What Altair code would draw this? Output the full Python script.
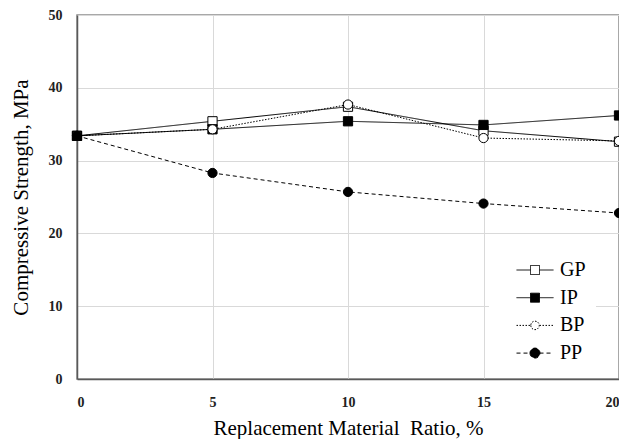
import altair as alt
import pandas as pd

ratios = [0, 5, 10, 15, 20]
series_names = ["GP", "IP", "BP", "PP"]
gp = [33.4, 35.4, 37.4, 34.1, 32.6]
ip = [33.4, 34.3, 35.4, 34.9, 36.2]
bp = [33.4, 34.3, 37.7, 33.1, 32.7]
pp = [33.4, 28.3, 25.7, 24.1, 22.8]
x_ticks = [0, 5, 10, 15, 20]
y_ticks = [0, 10, 20, 30, 40, 50]

rows = []
for name, vals in zip(series_names, [gp, ip, bp, pp]):
    for r, v in zip(ratios, vals):
        rows.append({"ratio": r, "strength": v, "series": name})
df = pd.DataFrame(rows)

FONT = "Liberation Serif"

x_enc = alt.X("ratio:Q", scale=alt.Scale(domain=[0, 20], nice=False),
              axis=alt.Axis(values=x_ticks, title="Replacement Material\u00a0 Ratio, %",
                            labelPadding=16, titlePadding=8))
y_enc = alt.Y("strength:Q", scale=alt.Scale(domain=[0, 50], nice=False),
              axis=alt.Axis(values=y_ticks, title="Compressive Strength, MPa",
                            labelPadding=15, titlePadding=17))

dash_dom = series_names
dash_rng = [[1, 0], [1, 0], [1.5, 1.5], [4, 3]]
fill_rng = ["white", "black", "white", "black"]

lines = alt.Chart(df).mark_line(color="black", strokeWidth=1).encode(
    x=x_enc, y=y_enc,
    detail="series:N",
    strokeDash=alt.StrokeDash("series:N", scale=alt.Scale(domain=dash_dom, range=dash_rng), legend=None),
)

points = alt.Chart(df).mark_point(filled=True, stroke="black", strokeWidth=1, size=85, opacity=1).encode(
    x=x_enc, y=y_enc,
    shape=alt.Shape("series:N", scale=alt.Scale(domain=series_names,
                                                range=["square", "square", "circle", "circle"]), legend=None),
    fill=alt.Fill("series:N", scale=alt.Scale(domain=series_names, range=fill_rng), legend=None),
)

sq = "M-0.9,-0.9L0.9,-0.9L0.9,0.9L-0.9,0.9Z"
ci_small = "M-0.85,0A0.85,0.85 0 1,0 0.85,0A0.85,0.85 0 1,0 -0.85,0Z"
ci_big = "M-1,0A1,1 0 1,0 1,0A1,1 0 1,0 -1,0Z"
seg = "M-3.7,0L-0.9,0M0.9,0L3.7,0"
legend_paths = [seg + sq, seg + sq, seg + ci_small, seg + ci_big]

legend_layer = alt.Chart(df).transform_filter("false").mark_point(
    filled=True, strokeWidth=1, opacity=1
).encode(
    x=x_enc, y=y_enc,
    shape=alt.Shape("series:N", scale=alt.Scale(domain=series_names, range=legend_paths), title=None,
                    legend=alt.Legend(orient="none", legendX=412, legendY=235, fillColor="white",
                                      padding=10, symbolSize=100, symbolOffset=26, labelOffset=15,
                                      labelFont=FONT, labelFontSize=20, labelColor="black",
                                      rowPadding=7.7, symbolStrokeWidth=1, title=None)),
    fill=alt.Fill("series:N", scale=alt.Scale(domain=series_names, range=fill_rng), title=None),
    stroke=alt.Stroke("series:N", scale=alt.Scale(domain=series_names, range=["black"] * 4), title=None),
    strokeDash=alt.StrokeDash("series:N", scale=alt.Scale(domain=dash_dom, range=dash_rng), title=None),
)

chart = alt.layer(lines, points, legend_layer).resolve_scale(
    shape="independent", fill="independent", strokeDash="independent", stroke="independent"
).properties(
    width=542, height=364,
    autosize=alt.AutoSizeParams(type="none"),
    padding={"left": 69, "top": 7, "right": 0, "bottom": 60},
).configure_view(
    stroke="#8c8c8c", strokeWidth=1.5
).configure_axis(
    labelFont=FONT, labelFontSize=14, labelFontWeight="bold", labelColor="#222",
    titleFont=FONT, titleFontSize=21, titleFontWeight="normal", titleColor="black",
    gridColor="#d9d9d9", gridWidth=1, tickSize=0, domainColor="#595959", domainWidth=1.5,
)

chart.save("out.html", embed_options={"renderer": "svg", "actions": False})
